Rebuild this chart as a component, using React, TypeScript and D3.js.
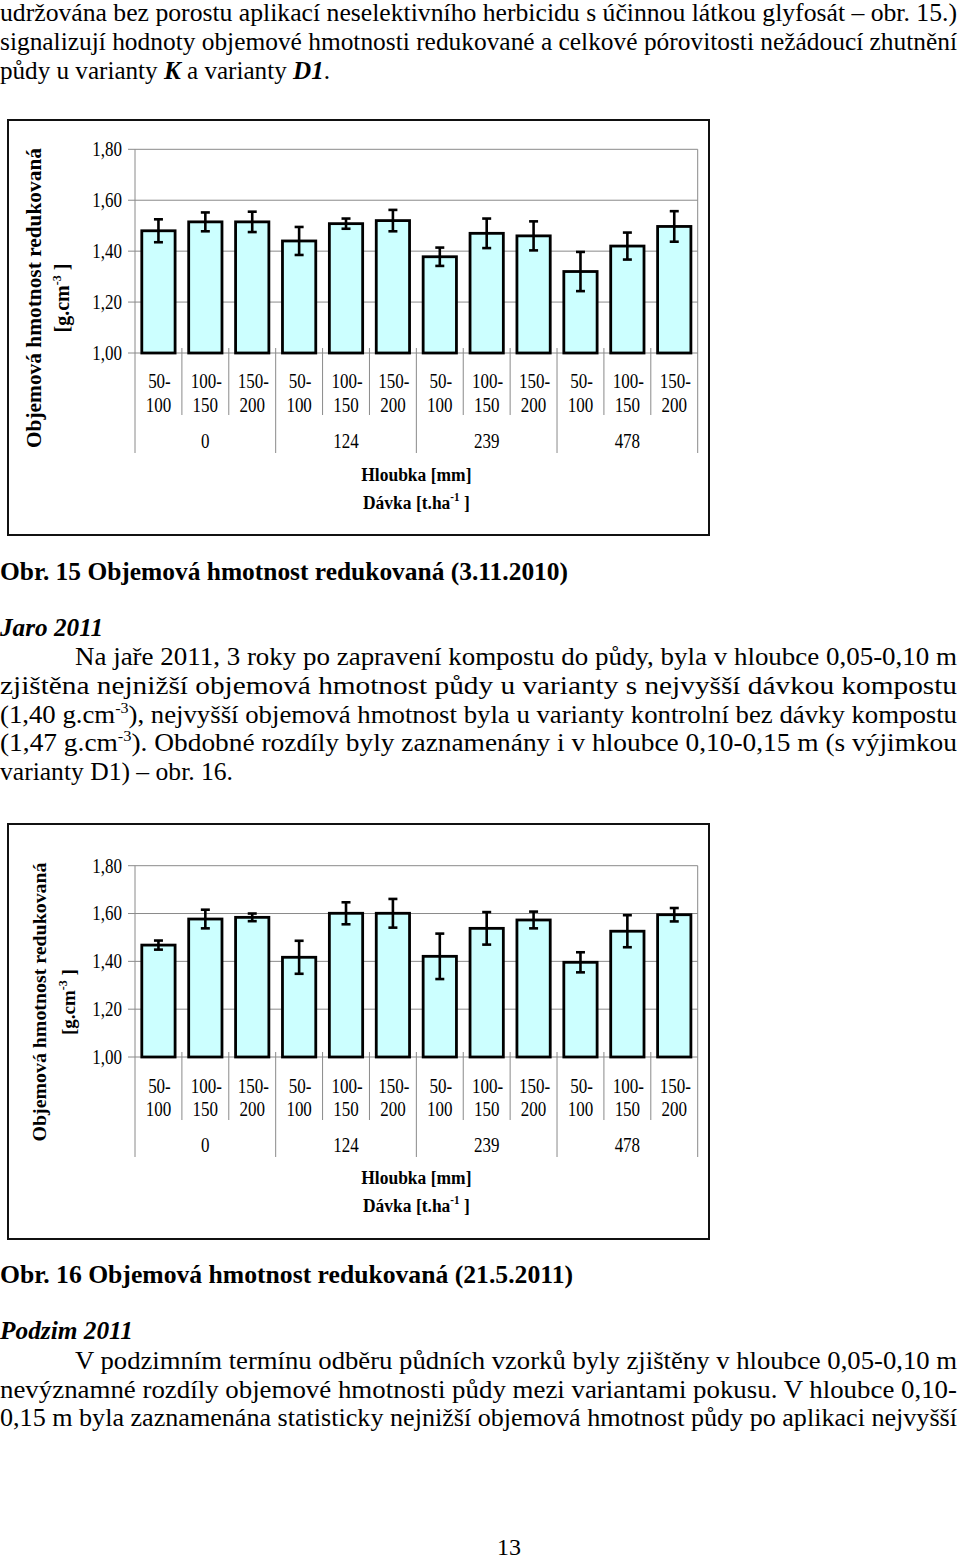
import { useEffect, useRef } from "react";
import * as d3 from "d3";

// x categories: depth within each dose
const depthLabels = [
  ["50-", "100"],
  ["100-", "150"],
  ["150-", "200"],
];
const doseLabels = ["0", "124", "239", "478"];
const yTickValues = [1.0, 1.2, 1.4, 1.6, 1.8];

// Obr. 15 (3.11.2010)
const fig15Means = [1.48, 1.515, 1.515, 1.44, 1.508, 1.52, 1.378, 1.47, 1.46, 1.32, 1.42, 1.497];
const fig15Errors = [0.045, 0.037, 0.04, 0.055, 0.02, 0.042, 0.036, 0.058, 0.057, 0.077, 0.053, 0.06];

// Obr. 16 (21.5.2011)
const fig16Means = [1.468, 1.577, 1.584, 1.417, 1.601, 1.601, 1.421, 1.538, 1.573, 1.396, 1.526, 1.595];
const fig16Errors = [0.019, 0.039, 0.016, 0.069, 0.046, 0.06, 0.095, 0.068, 0.035, 0.042, 0.067, 0.028];

const FONT = "Liberation Serif";
const GRAY = "#8a8a8a";

// page text, "^{..}" = superscript, "*..*" = bold italic
const topLines = [
  "udržována bez porostu aplikací neselektivního herbicidu s účinnou látkou glyfosát – obr. 15.)",
  "signalizují hodnoty objemové hmotnosti redukované a celkové pórovitosti nežádoucí zhutnění",
  "půdy u varianty *K* a varianty *D1*.",
];
const jaroLines = [
  "Na jaře 2011, 3 roky po zapravení kompostu do půdy, byla v hloubce 0,05-0,10 m",
  "zjištěna nejnižší objemová hmotnost půdy u varianty s nejvyšší dávkou kompostu",
  "(1,40 g.cm^{-3}), nejvyšší objemová hmotnost byla u varianty kontrolní bez dávky kompostu",
  "(1,47 g.cm^{-3}). Obdobné rozdíly byly zaznamenány i v hloubce 0,10-0,15 m (s výjimkou",
  "varianty D1) – obr. 16.",
];
const podzimLines = [
  "V podzimním termínu odběru půdních vzorků byly zjištěny v hloubce 0,05-0,10 m",
  "nevýznamné rozdíly objemové hmotnosti půdy mezi variantami pokusu. V hloubce 0,10-",
  "0,15 m byla zaznamenána statisticky nejnižší objemová hmotnost půdy po aplikaci nejvyšší",
];

function textLine(svg, x, y, width, str, opts = {}) {
  const t = svg
    .append("text")
    .attr("x", x)
    .attr("y", y)
    .style("font-family", FONT)
    .attr("font-size", opts.size || 25)
    .attr("font-weight", opts.bold ? "bold" : "normal")
    .attr("font-style", opts.italic ? "italic" : "normal")
    .attr("fill", "#000")
    .attr("textLength", width)
    .attr("lengthAdjust", "spacingAndGlyphs");
  const parts = str.split(/(\^\{[^}]*\}|\*[^*]*\*)/).filter((p) => p !== "");
  let raised = false;
  parts.forEach((p) => {
    if (p.startsWith("^{")) {
      t.append("tspan").attr("dy", -10).attr("font-size", 15).text(p.slice(2, -1));
      raised = true;
    } else if (p.startsWith("*")) {
      t.append("tspan")
        .attr("dy", raised ? 10 : 0)
        .attr("font-weight", "bold")
        .attr("font-style", "italic")
        .text(p.slice(1, -1));
      raised = false;
    } else {
      t.append("tspan").attr("dy", raised ? 10 : 0).text(p);
      raised = false;
    }
  });
  return t;
}

function chartText(g, x, y, str, opts = {}) {
  return g
    .append("text")
    .attr("transform", `translate(${x},${y}) scale(${opts.sx || 0.85},1)`)
    .attr("text-anchor", opts.anchor || "middle")
    .style("font-family", FONT)
    .attr("font-size", opts.size || 20)
    .attr("font-weight", opts.bold ? "bold" : "normal")
    .attr("fill", "#000")
    .text(str);
}

function drawChart(svg, cfg, means, errors) {
  const g = svg.append("g");
  const plotLeft = 135;
  const plotRight = 697.7;
  const n = means.length;

  // outer frame
  g.append("rect")
    .attr("x", 8)
    .attr("y", cfg.boxTop)
    .attr("width", 701)
    .attr("height", cfg.boxBottom - cfg.boxTop)
    .attr("fill", "#fff")
    .attr("stroke", "#111")
    .attr("stroke-width", 2);

  const x = d3
    .scaleBand()
    .domain(d3.range(n))
    .range([plotLeft, plotRight])
    .paddingInner(0.29)
    .paddingOuter(0.145);
  const y = d3.scaleLinear().domain([1.0, 1.8]).range([cfg.plotBottom, cfg.plotTop]);
  const step = x.step();

  // gridlines and y ticks
  g.selectAll("line.grid")
    .data(yTickValues)
    .enter()
    .append("line")
    .attr("x1", plotLeft - 7)
    .attr("x2", plotRight)
    .attr("y1", (d) => y(d))
    .attr("y2", (d) => y(d))
    .attr("stroke", GRAY)
    .attr("stroke-width", 1);

  yTickValues.forEach((v) => {
    chartText(g, 122, y(v) + 6.8, v.toFixed(2).replace(".", ","), { anchor: "end" });
  });

  // vertical separators (category / group)
  d3.range(n + 1).forEach((k) => {
    const xx = plotLeft + k * step;
    const isEdge = k === 0 || k === n;
    const isGroup = k % 3 === 0;
    g.append("line")
      .attr("x1", xx)
      .attr("x2", xx)
      .attr("y1", isEdge ? cfg.plotTop : cfg.plotBottom - 5)
      .attr("y2", isGroup ? cfg.groupSepY : cfg.catSepY)
      .attr("stroke", GRAY)
      .attr("stroke-width", 1);
  });

  // bars
  g.selectAll("rect.bar")
    .data(means)
    .enter()
    .append("rect")
    .attr("x", (d, i) => x(i))
    .attr("y", (d) => y(d))
    .attr("width", x.bandwidth())
    .attr("height", (d) => cfg.plotBottom - y(d))
    .attr("fill", "#ccffff")
    .attr("stroke", "#000")
    .attr("stroke-width", 2.8);

  // error bars
  means.forEach((m, i) => {
    const cx = x(i) + x.bandwidth() / 2;
    const hi = y(m + errors[i]);
    const lo = y(m - errors[i]);
    g.append("line").attr("x1", cx).attr("x2", cx).attr("y1", hi).attr("y2", lo)
      .attr("stroke", "#000").attr("stroke-width", 2.6);
    [hi, lo].forEach((yy) => {
      g.append("line").attr("x1", cx - 4.5).attr("x2", cx + 4.5).attr("y1", yy).attr("y2", yy)
        .attr("stroke", "#000").attr("stroke-width", 2.6);
    });
  });

  // category labels
  d3.range(n).forEach((i) => {
    const cx = x(i) + x.bandwidth() / 2;
    const lbl = depthLabels[i % 3];
    chartText(g, cx + 1, cfg.lab1Y, lbl[0]);
    chartText(g, cx, cfg.lab2Y, lbl[1]);
  });
  doseLabels.forEach((d, j) => {
    chartText(g, plotLeft + (j * 3 + 1.5) * step, cfg.groupY, d);
  });

  // axis titles
  const midX = (plotLeft + plotRight) / 2;
  chartText(g, midX, cfg.hlY, "Hloubka [mm]", { bold: true, size: 19, sx: 0.92 });
  const dv = g
    .append("text")
    .attr("transform", `translate(${midX},${cfg.daY}) scale(0.92,1)`)
    .attr("text-anchor", "middle")
    .style("font-family", FONT)
    .attr("font-size", 19)
    .attr("font-weight", "bold");
  dv.append("tspan").text("Dávka [t.ha");
  dv.append("tspan").attr("dy", -8).attr("font-size", 12).text("-1");
  dv.append("tspan").attr("dy", 8).text(" ]");

  g.append("text")
    .attr("transform", `translate(${cfg.titleX},${cfg.titleCY}) rotate(-90)`)
    .attr("text-anchor", "middle")
    .style("font-family", FONT)
    .attr("font-size", cfg.titleSize)
    .attr("font-weight", "bold")
    .attr("textLength", cfg.titleLen)
    .attr("lengthAdjust", "spacingAndGlyphs")
    .text("Objemová hmotnost redukovaná");

  const un = g
    .append("text")
    .attr("transform", `translate(${cfg.unitX},${cfg.titleCY}) rotate(-90)`)
    .attr("text-anchor", "middle")
    .style("font-family", FONT)
    .attr("font-size", cfg.titleSize)
    .attr("font-weight", "bold");
  un.append("tspan").text("[g.cm");
  un.append("tspan").attr("dy", -8).attr("font-size", 12).text("-3");
  un.append("tspan").attr("dy", 8).text(" ]");
}

export default function App() {
  const ref = useRef(null);

  useEffect(() => {
    const svg = d3.select(ref.current);
    svg.selectAll("*").remove();

    topLines.forEach((l, i) => {
      const w = i === 2 ? 330 : 957;
      textLine(svg, 0, 21 + i * 29, w, l);
    });

    drawChart(
      svg,
      {
        boxTop: 120, boxBottom: 535, plotTop: 149.3, plotBottom: 353,
        lab1Y: 388, lab2Y: 412, groupY: 448, catSepY: 415, groupSepY: 453,
        hlY: 481, daY: 509, titleX: 41, unitX: 69, titleCY: 298, titleLen: 300, titleSize: 20,
      },
      fig15Means,
      fig15Errors
    );

    textLine(svg, 0, 580, 568, "Obr. 15 Objemová hmotnost redukovaná (3.11.2010)", { bold: true });
    textLine(svg, 0, 636, 103, "Jaro 2011", { bold: true, italic: true });
    jaroLines.forEach((l, i) => {
      const x0 = i === 0 ? 75 : 0;
      const w = i === 4 ? 233 : 957 - x0;
      textLine(svg, x0, 665 + i * 28.8, w, l);
    });

    drawChart(
      svg,
      {
        boxTop: 824, boxBottom: 1239, plotTop: 865.7, plotBottom: 1057,
        lab1Y: 1093, lab2Y: 1116, groupY: 1152, catSepY: 1120, groupSepY: 1157,
        hlY: 1184, daY: 1212, titleX: 46, unitX: 75, titleCY: 1002, titleLen: 279, titleSize: 19,
      },
      fig16Means,
      fig16Errors
    );

    textLine(svg, 0, 1283, 573, "Obr. 16 Objemová hmotnost redukovaná (21.5.2011)", { bold: true });
    textLine(svg, 0, 1339, 133, "Podzim 2011", { bold: true, italic: true });
    podzimLines.forEach((l, i) => {
      const x0 = i === 0 ? 75 : 0;
      textLine(svg, x0, 1369 + i * 28.6, 957 - x0, l);
    });

    svg.append("text")
      .attr("x", 509)
      .attr("y", 1555)
      .attr("text-anchor", "middle")
      .style("font-family", FONT)
      .attr("font-size", 24)
      .text("13");
  }, []);

  return (
    <svg
      ref={ref}
      width={960}
      height={1559}
      style={{ position: "absolute", left: 0, top: 0, background: "#fff" }}
    />
  );
}
